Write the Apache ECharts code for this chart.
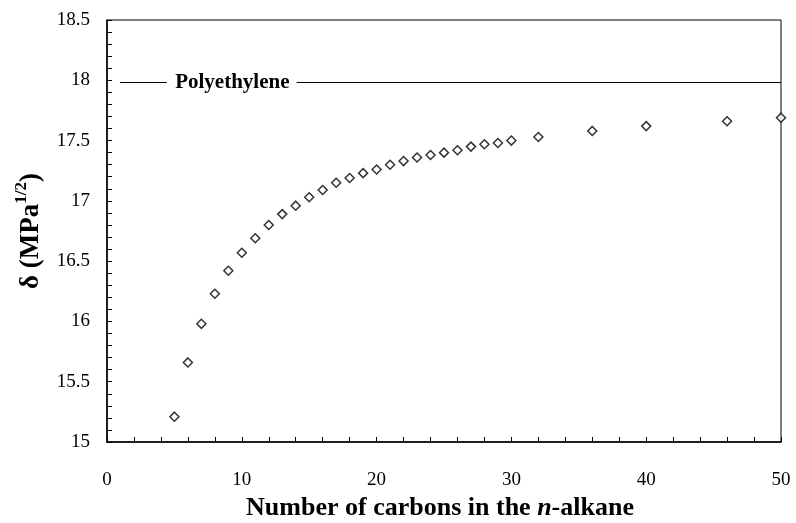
<!DOCTYPE html>
<html><head><meta charset="utf-8">
<script src="https://cdn.jsdelivr.net/npm/echarts@6/dist/echarts.min.js"></script>
<style>html,body{margin:0;padding:0;background:#fff;overflow:hidden}#c{width:796px;height:523px}</style>
</head><body><div id="c"></div>
<script>
const carbons = [5,6,7,8,9,10,11,12,13,14,15,16,17,18,19,20,21,22,23,24,25,26,27,28,29,30,32,36,40,46,50];
const delta = [15.21,15.66,15.98,16.23,16.42,16.57,16.69,16.80,16.89,16.96,17.03,17.09,17.15,17.19,17.23,17.26,17.30,17.33,17.36,17.38,17.40,17.42,17.45,17.47,17.48,17.50,17.53,17.58,17.62,17.66,17.69];
const polyethylene = 17.98;
const polyLabel = 'Polyethylene';
const xTitle = 'Number of carbons in the ';
const font = 'Liberation Serif';

const chart = echarts.init(document.getElementById('c'), null, {width: 796, height: 523});
chart.setOption({
  animation: false,
  backgroundColor: '#fff',
  grid: {left: 107, right: 15, top: 20, bottom: 81, outerBoundsMode: 'none', containLabel: false,
         show: true, borderColor: '#000', borderWidth: 1, backgroundColor: 'transparent'},
  xAxis: {
    type: 'value', min: 0, max: 50, interval: 10,
    axisLine: {lineStyle: {color: '#000', width: 1.5}},
    axisTick: {inside: true, length: 5, lineStyle: {color: '#000'}},
    minorTick: {show: true, splitNumber: 5, length: 5, lineStyle: {color: '#000'}},
    splitLine: {show: false},
    axisLabel: {margin: 29, fontFamily: font, fontSize: 19, color: '#000'},
    name: '{b|' + xTitle + '}{bi|n}{b|-alkane}', nameLocation: 'middle', nameGap: 53,
    nameTextStyle: {padding: [0, 8, 0, 0], rich: {
      b: {fontFamily: font, fontSize: 26, fontWeight: 'bold', color: '#000'},
      bi: {fontFamily: font, fontSize: 26, fontWeight: 'bold', fontStyle: 'italic', color: '#000'}
    }}
  },
  yAxis: {
    type: 'value', min: 15, max: 18.5, interval: 0.5,
    axisLine: {lineStyle: {color: '#000', width: 1.5}},
    axisTick: {inside: true, length: 5, lineStyle: {color: '#000'}},
    minorTick: {show: true, splitNumber: 5, length: 5, lineStyle: {color: '#000'}},
    splitLine: {show: false},
    axisLabel: {margin: 17, fontFamily: font, fontSize: 19, color: '#000'},
    name: '{b|δ (MPa}{sup|1/2}{b|)}', nameLocation: 'middle', nameGap: 62, nameRotate: 90,
    nameTextStyle: {rich: {
      b: {fontFamily: font, fontSize: 27, fontWeight: 'bold', color: '#000', verticalAlign: 'bottom', lineHeight: 32},
      sup: {fontFamily: font, fontSize: 17, fontWeight: 'bold', color: '#000', verticalAlign: 'top', lineHeight: 32, padding: [0,0,12,0]}
    }}
  },
  series: [{
    type: 'scatter',
    data: carbons.map((c, i) => [c, delta[i]]),
    symbol: 'diamond', symbolSize: 9,
    itemStyle: {color: '#fff', borderColor: '#000', borderWidth: 1.5},
    markLine: {
      silent: true, symbol: ['none', 'none'],
      lineStyle: {color: '#000', width: 1, type: 'solid'},
      label: {show: false},
      data: [
        [{coord: [0.96, polyethylene]}, {coord: [4.43, polyethylene]}],
        [{coord: [14.07, polyethylene]}, {coord: [50, polyethylene]}]
      ]
    },
    markPoint: {
      silent: true, symbol: 'circle', symbolSize: 0,
      label: {show: true, position: 'inside', formatter: polyLabel, fontFamily: font, fontSize: 21, fontWeight: 'bold', color: '#000'},
      data: [{coord: [9.3, polyethylene]}]
    }
  }]
});
</script></body></html>
